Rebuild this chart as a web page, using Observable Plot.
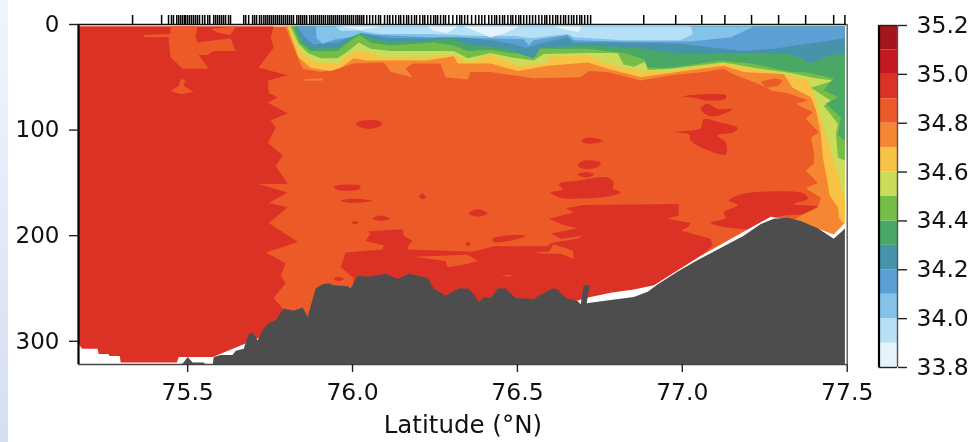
<!DOCTYPE html>
<html><head><meta charset="utf-8">
<script src="https://cdn.jsdelivr.net/npm/d3@7"></script>
<script src="https://cdn.jsdelivr.net/npm/@observablehq/plot@0.6"></script>
<style>
html,body{margin:0;padding:0;background:#fff;}
#fig{position:relative;width:977px;height:442px;overflow:hidden;}
#strip{position:absolute;left:0;top:0;width:8px;height:442px;background:linear-gradient(#f1f5fd,#d5dff2);}
#main,#bar{position:absolute;top:0;filter:blur(0.6px);}
#main{left:0;}#bar{left:860px;}
</style></head><body>
<div id="fig"><div id="strip"></div><div id="main"></div><div id="bar"></div></div>
<script>
// ---- colour levels (psu)
const levels=[33.9,34.0,34.1,34.2,34.3,34.4,34.5,34.6,34.7,34.8,34.9,35.0,35.1];
const levelColors=["#e5f4fb","#b5e0f5","#83c3e9","#5b9fd4","#4893ac","#4aa866","#74be48","#cbdb5a","#f8c244","#f58733","#ec5a27","#dc3226","#c31a22","#a4161c"];
const barLow=[33.8,33.9,34.0,34.1,34.2,34.3,34.4,34.5,34.6,34.7,34.8,34.9,35.0,35.1];
const barHigh=[33.9,34.0,34.1,34.2,34.3,34.4,34.5,34.6,34.7,34.8,34.9,35.0,35.1,35.2];
const barTicks=[33.8,34.0,34.2,34.4,34.6,34.8,35.0,35.2];
const latTicks=[75.5,76.0,76.5,77.0,77.5];
const depthTicks=[0,100,200,300];

// ---- stations (latitude, °N)
const stations=[75.333,75.421,75.442,75.451,75.457,75.467,75.473,75.479,75.485,75.491,75.494,75.500,75.506,75.512,75.518,75.524,75.530,75.536,75.545,75.552,75.561,75.567,75.579,75.585,75.591,75.597,75.603,75.609,75.615,75.624,75.630,75.670,75.676,75.685,75.697,75.703,75.709,75.718,75.724,75.731,75.737,75.743,75.749,75.755,75.761,75.767,75.773,75.779,75.785,75.791,75.797,75.803,75.809,75.815,75.821,75.831,75.837,75.843,75.849,75.855,75.861,75.870,75.876,75.882,75.888,75.894,75.900,75.906,75.912,75.918,75.925,75.931,75.937,75.943,75.949,75.955,75.961,75.967,75.973,75.979,75.985,75.991,75.997,76.003,76.010,76.016,76.022,76.028,76.034,76.043,76.052,76.061,76.070,76.079,76.085,76.097,76.106,76.113,76.122,76.131,76.140,76.146,76.155,76.164,76.170,76.179,76.188,76.194,76.204,76.213,76.219,76.228,76.237,76.246,76.252,76.258,76.267,76.276,76.282,76.292,76.304,76.316,76.325,76.331,76.340,76.349,76.361,76.373,76.383,76.392,76.401,76.413,76.422,76.431,76.437,76.446,76.455,76.461,76.471,76.480,76.486,76.495,76.504,76.510,76.519,76.528,76.537,76.546,76.555,76.565,76.574,76.583,76.589,76.598,76.607,76.616,76.622,76.631,76.640,76.646,76.655,76.664,76.671,76.680,76.689,76.695,76.704,76.713,76.722,76.883,76.980,77.059,77.129,77.210,77.292,77.374,77.459,77.493];

// ---- water column extent
const allWater=[[75.169,2],[77.493,2],[77.493,322],[75.169,322]];

// ---- 34.9 isohaline on the west side and saltier core
const coreWest=[[75.169,2],[75.761,2],[75.752,12],[75.761,22],[75.743,29],[75.715,41],[75.803,48],[75.743,53],[75.746,65],[75.773,69],[75.743,74],[75.803,84],[75.752,91],[75.767,98],[75.743,112],[75.788,124],[75.767,134],[75.791,145],[75.803,151],[75.715,151],[75.803,159],[75.746,169],[75.803,173],[75.746,188],[75.834,206],[75.737,216],[75.797,226],[75.782,238],[75.797,245],[75.761,259],[75.788,269],[75.812,282],[75.812,322],[75.169,322]];
const freshWest1=[[75.448,2],[75.530,2],[75.524,12],[75.530,17],[75.630,13],[75.646,25],[75.579,25],[75.561,29],[75.533,29],[75.564,42],[75.485,42],[75.448,31],[75.442,12],[75.367,12],[75.367,10],[75.448,9]];
const freshWest2=[[75.570,4],[75.646,2],[75.630,10],[75.594,8]];
const freshWest3=[[75.448,63],[75.473,58],[75.479,52],[75.494,52],[75.488,58],[75.518,64],[75.479,66]];

// ---- saltier patches (34.9–35.0)
const salty=[
 [[76.010,94],[76.031,91],[76.076,91],[76.091,94],[76.070,98],[76.031,98]],
 [[75.943,154],[75.964,152],[76.025,153],[76.019,156],[75.958,157]],
 [[75.964,167],[75.994,165],[76.061,167],[75.994,169]],
 [[76.201,163],[76.213,160],[76.222,164],[76.210,165]],
 [[76.061,184],[76.085,181],[76.113,184],[76.085,186]],
 [[76.352,179],[76.379,175],[76.410,179],[76.379,182]],
 [[75.997,188],[76.006,186],[76.019,188],[76.006,189]],
 [[76.425,203],[76.458,200],[76.525,200],[76.489,204],[76.428,206]],
 [[75.943,241],[75.958,239],[75.973,241],[75.958,243]],
 [[76.343,208],[76.349,206],[76.358,208],[76.349,210]],
 [[76.683,142],[76.707,140],[76.732,142],[76.707,145]],
 [[76.625,151],[76.683,148],[76.774,145],[76.792,150],[76.789,155],[76.813,159],[76.774,163],[76.662,165],[76.631,164],[76.601,159],[76.637,156]],
 [[77.141,167],[77.177,161],[77.277,158],[77.368,160],[77.381,165],[77.338,170],[77.411,173],[77.399,178],[77.308,181],[77.268,184],[77.244,188],[77.223,193],[77.156,193],[77.086,188],[77.132,183],[77.126,178],[77.168,171]],
 [[77.001,68],[77.132,67],[77.132,70],[77.077,72],[77.047,70]],
 [[77.056,79],[77.077,75],[77.107,80],[77.153,80],[77.095,87],[77.062,83]],
 [[76.974,102],[77.056,98],[77.065,90],[77.117,93],[77.168,98],[77.156,102],[77.107,105],[77.132,112],[77.132,123],[77.077,119],[77.026,110],[77.020,104]],
 [[76.695,110],[76.713,107],[76.759,110],[76.716,113]],
 [[76.683,133],[76.701,129],[76.753,131],[76.744,135],[76.713,137],[76.692,136]]
];
const saltyBody=[[75.964,230],[75.979,216],[76.091,213],[76.094,209],[76.040,205],[76.055,198],[76.046,196],[76.152,194],[76.155,200],[76.182,205],[76.170,209],[76.167,213],[76.349,215],[76.367,215],[76.428,210],[76.592,210],[76.601,207],[76.683,203],[76.698,200],[76.631,203],[76.601,198],[76.683,193],[76.640,190],[76.595,184],[76.671,178],[76.646,174],[76.701,171],[76.989,170],[76.989,181],[76.956,184],[77.026,188],[77.016,192],[76.995,195],[77.086,203],[77.092,209],[77.047,223],[77.047,280],[76.003,280],[76.003,240]];
const tongue1=[[76.186,220],[76.349,218],[76.379,224],[76.343,227],[76.288,230],[76.282,224]];
const tongue2=[[76.549,216],[76.595,215],[76.610,208],[76.668,214],[76.671,222],[76.631,217],[76.586,217]];
const tongue3=[[76.449,238],[76.480,237],[76.480,239]];

// ---- isohalines of the fresh upper layer
const iso348=[[75.797,2],[75.812,15],[75.828,27],[75.849,42],[75.903,45],[75.955,42],[76.003,37],[76.095,36],[76.116,45],[76.182,50],[76.161,42],[76.182,37],[76.267,37],[76.282,50],[76.349,52],[76.358,45],[76.419,45],[76.549,51],[76.692,50],[76.716,44],[76.774,45],[76.874,53],[76.965,48],[77.065,45],[77.126,42],[77.147,46],[77.186,51],[77.238,57],[77.274,63],[77.320,65],[77.381,72],[77.344,75],[77.396,83],[77.374,89],[77.414,102],[77.390,107],[77.399,121],[77.399,132],[77.374,138],[77.411,150],[77.374,155],[77.420,164],[77.411,173],[77.359,181],[77.320,190],[77.493,205],[77.493,2]];
const iso347=[[75.803,2],[75.821,18],[75.836,31],[75.873,41],[75.934,44],[75.964,41],[76.003,32],[76.040,34],[76.095,34],[76.228,34],[76.307,30],[76.319,37],[76.419,37],[76.501,44],[76.592,39],[76.713,36],[76.774,42],[76.874,50],[76.986,45],[77.126,39],[77.186,45],[77.308,47],[77.335,60],[77.390,69],[77.405,81],[77.420,103],[77.426,126],[77.438,145],[77.447,162],[77.472,173],[77.475,183],[77.493,190],[77.493,2]];
const iso346=[[75.806,2],[75.828,18],[75.849,29],[75.894,36],[75.955,37],[75.985,29],[76.019,25],[76.046,27],[76.095,31],[76.228,31],[76.276,29],[76.313,29],[76.349,36],[76.419,29],[76.449,32],[76.501,39],[76.592,37],[76.595,31],[76.713,29],[76.762,36],[76.835,42],[76.895,45],[76.965,44],[77.126,37],[77.208,42],[77.329,48],[77.381,53],[77.396,63],[77.405,72],[77.435,103],[77.456,126],[77.472,143],[77.481,154],[77.493,167],[77.493,2]];
const iso345=[[75.812,2],[75.836,18],[75.864,27],[75.903,32],[75.955,32],[75.988,25],[76.019,17],[76.055,23],[76.116,25],[76.246,25],[76.307,25],[76.349,32],[76.419,27],[76.480,31],[76.549,34],[76.580,28],[76.713,27],[76.804,27],[76.822,38],[76.853,40],[76.889,35],[76.895,43],[76.965,42],[77.126,36],[77.217,41],[77.329,46],[77.405,51],[77.459,53],[77.390,60],[77.450,72],[77.429,77],[77.472,94],[77.466,103],[77.472,126],[77.493,129],[77.493,2]];
const iso344=[[75.818,2],[75.843,18],[75.873,25],[75.955,25],[75.988,17],[76.019,10],[76.055,17],[76.116,20],[76.246,17],[76.307,20],[76.349,25],[76.419,24],[76.480,27],[76.549,29],[76.565,23],[76.713,23],[76.822,27],[76.883,33],[76.895,41],[76.965,41],[77.117,34],[77.208,37],[77.329,45],[77.368,45],[77.459,51],[77.429,62],[77.472,69],[77.435,75],[77.481,88],[77.472,105],[77.493,110],[77.493,2]];
const iso343=[[75.825,2],[75.852,18],[75.879,23],[75.955,22],[75.988,15],[76.019,8],[76.055,13],[76.116,17],[76.246,15],[76.307,13],[76.349,20],[76.419,21],[76.480,24],[76.517,29],[76.549,32],[76.571,22],[76.713,20],[76.853,22],[76.974,27],[77.126,27],[77.238,27],[77.323,28],[77.359,32],[77.390,37],[77.429,31],[77.493,27],[77.493,2]];
const iso342=[[75.831,2],[75.858,13],[75.882,19],[75.955,17],[75.988,12],[76.019,6],[76.055,10],[76.116,13],[76.246,13],[76.307,10],[76.349,13],[76.419,15],[76.480,18],[76.525,22],[76.571,18],[76.652,12],[76.671,17],[76.822,17],[76.986,18],[77.186,25],[77.277,23],[77.493,13],[77.493,2]];
const iso341=[[75.888,2],[75.891,13],[75.909,18],[75.949,14],[75.994,12],[76.025,8],[76.076,10],[76.237,12],[76.307,12],[76.419,13],[76.519,14],[76.534,20],[76.549,15],[76.652,10],[76.671,15],[76.822,16],[77.026,16],[77.147,12],[77.217,2]];
const iso340=[[75.949,2],[75.964,6],[76.019,6],[76.085,9],[76.237,9],[76.389,11],[76.495,11],[76.540,13],[76.652,9],[76.671,12],[76.822,15],[76.995,15],[77.032,9],[77.026,2]];
const freshest=[
 [[75.964,2],[76.085,2],[76.025,5]],
 [[76.228,2],[76.246,6],[76.288,8],[76.319,2]],
 [[76.337,2],[76.419,12],[76.464,8],[76.504,2]],
 [[76.610,2],[76.692,2],[76.686,7],[76.650,5]]
];
const innerPatch=[[77.238,54],[77.283,51],[77.304,53],[77.292,58],[77.253,60]];
const thinStreak=[[75.852,52],[75.909,51],[75.909,53],[75.852,53]];

// ---- lower limit of the section, and the sea floor
const sectionFloor=[[75.169,303],[75.181,307],[75.227,307],[75.230,312],[75.260,312],[75.263,314],[75.294,314],[75.297,320],[75.467,320],[75.473,315],[75.576,315],[75.661,304],[75.843,280],[76.677,262],[76.707,259],[76.783,254],[76.853,251],[76.914,247],[77.056,219],[77.268,182],[77.359,187],[77.435,196],[77.459,199],[77.493,188],[77.493,322],[75.169,322]];
const floorHump=[[75.473,322],[75.485,321],[75.500,315],[75.515,320],[75.548,320],[75.555,322]];
const seaFloor=[[75.576,322],[75.579,315],[75.600,313],[75.636,313],[75.646,309],[75.670,307],[75.685,293],[75.697,292],[75.712,299],[75.731,288],[75.746,283],[75.767,280],[75.791,269],[75.821,271],[75.849,268],[75.864,277],[75.888,250],[75.909,246],[75.928,245],[75.943,247],[75.985,248],[75.994,250],[76.016,238],[76.046,239],[76.101,236],[76.137,241],[76.170,236],[76.228,240],[76.246,250],[76.282,257],[76.322,250],[76.349,250],[76.367,255],[76.383,263],[76.398,258],[76.419,259],[76.440,250],[76.464,250],[76.495,259],[76.549,260],[76.565,257],[76.607,250],[76.622,251],[76.646,259],[76.683,262],[76.692,265],[76.701,247],[76.719,247],[76.710,264],[76.783,261],[76.853,258],[76.895,253],[76.926,246],[76.986,234],[77.047,223],[77.126,210],[77.186,200],[77.238,189],[77.277,184],[77.320,183],[77.359,186],[77.411,193],[77.459,203],[77.487,195],[77.493,193],[77.493,322]];

const colorScale={type:"threshold",domain:levels,range:levelColors};
const font="'DejaVu Sans', sans-serif";

// closed filled outline in lat/depth coordinates, coloured by the salinity scale
const region=(pts,s,curve="linear")=>Plot.line(pts,{x:d=>d[0],y:d=>d[1],fill:()=>s,stroke:"none",curve});
const solid=(pts,c)=>Plot.line(pts,{x:d=>d[0],y:d=>d[1],fill:c,stroke:"none",curve:"linear"});

const chart=Plot.plot({
  width:880,height:442,marginLeft:78,marginRight:33.3,marginTop:24,marginBottom:78,
  style:{background:"transparent",fontFamily:font,color:"#111",overflow:"visible"},
  x:{domain:[75.169,77.5]},
  y:{domain:[0,322],reverse:true},
  color:colorScale,
  marks:[
    region(allWater,34.85),
    region(coreWest,34.95),
    region(freshWest1,34.85),region(freshWest2,34.85),region(freshWest3,34.85),
    ...salty.map(p=>region(p,34.95,"catmull-rom-closed")),
    region(saltyBody,34.95),
    region(tongue1,34.85),region(tongue2,34.85),region(tongue3,34.85),
    region(iso348,34.75),region(thinStreak,34.75),region(innerPatch,34.85),
    region(iso347,34.65),region(iso346,34.55),region(iso345,34.45),region(iso344,34.35),
    region(iso343,34.25),region(iso342,34.15),region(iso341,34.05),region(iso340,33.95),
    ...freshest.map(p=>region(p,33.85)),
    solid(sectionFloor,"#fff"),
    solid(floorHump,"#4d4d4d"),solid(seaFloor,"#4d4d4d"),
    Plot.ruleX(stations,{y1:-8.5,y2:0,stroke:"#000",strokeWidth:1.5}),
    Plot.ruleY([0],{x1:75.169,x2:77.5,stroke:"#111",strokeWidth:1.6}),
    Plot.ruleY([322],{x1:75.169,x2:77.5,stroke:"#444",strokeWidth:1.6}),
    Plot.ruleX([75.169],{y1:0,y2:322,stroke:"#000",strokeWidth:2.2}),
    Plot.ruleX([77.5],{y1:0,y2:322,stroke:"#666",strokeWidth:1.5}),
    Plot.axisY({ticks:depthTicks,tickSize:9,tickPadding:10,label:null,fontSize:23,stroke:"#222",strokeWidth:1.4}),
    Plot.axisX({ticks:latTicks,tickSize:8,tickPadding:11,tickFormat:d=>d.toFixed(1),fontSize:23.5,stroke:"#222",strokeWidth:1.4,
      label:"Latitude (°N)",labelAnchor:"center",labelArrow:"none",labelOffset:68})
  ]
});
chart.querySelectorAll("text").forEach(t=>{ if(t.textContent.includes("Latitude")) t.setAttribute("font-size","24.5"); });
document.getElementById("main").appendChild(chart);

const bands=barLow.map((lo,i)=>({lo,hi:barHigh[i]}));
const bar=Plot.plot({
  width:117,height:442,marginLeft:18.5,marginRight:80,marginTop:25,marginBottom:75,
  style:{background:"transparent",fontFamily:font,color:"#111",overflow:"visible"},
  x:{domain:[0,1],axis:null},
  y:{domain:[33.8,35.2]},
  color:colorScale,
  marks:[
    Plot.rect(bands,{x1:0,x2:1,y1:"lo",y2:"hi",fill:d=>(d.lo+d.hi)/2}),
    Plot.ruleX([0],{y1:33.8,y2:35.2,stroke:"#000",strokeWidth:2.2}),
    Plot.ruleX([1],{y1:33.8,y2:35.2,stroke:"#555",strokeWidth:1.4}),
    Plot.ruleY([33.8,35.2],{x1:0,x2:1,stroke:"#222",strokeWidth:1.4}),
    Plot.axisY({anchor:"right",ticks:barTicks,tickSize:9,tickPadding:10,tickFormat:d=>d.toFixed(1),label:null,fontSize:23.5,stroke:"#222",strokeWidth:1.4})
  ]
});
document.getElementById("bar").appendChild(bar);
</script></body></html>
